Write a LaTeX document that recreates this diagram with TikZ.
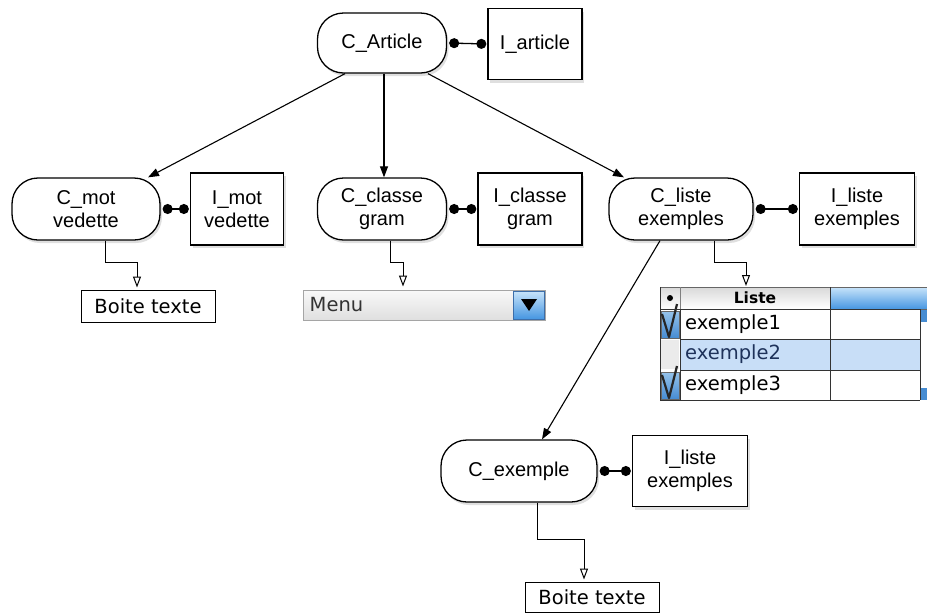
\documentclass[tikz,border=0pt]{standalone}
\usepackage{fontspec}
\setmainfont{Liberation Sans}
\newfontfamily\uifont{DejaVu Sans}
\usetikzlibrary{arrows.meta,shadows,calc}
\definecolor{selblue}{RGB}{200,222,247}
\definecolor{hdrblue}{RGB}{70,150,225}
\definecolor{hdrlight}{RGB}{200,228,250}
\definecolor{chkblue}{RGB}{70,140,210}
\definecolor{chklight}{RGB}{150,195,235}
\definecolor{txtblue}{RGB}{30,50,90}
\begin{document}
\begin{tikzpicture}[x=1pt,y=-1pt,
  every node/.style={inner sep=0pt, align=center, font=\fontsize{20}{23}\selectfont},
  shad/.style={drop shadow={shadow xshift=2pt,shadow yshift=-3pt,opacity=0.25}},
  cbox/.style={draw, line width=1.3pt, fill=white, rounded corners=26pt, shad},
  ibox/.style={draw, line width=1.3pt, fill=white, shad},
  tbox/.style={draw, line width=1pt, fill=white, font=\uifont\fontsize{19.5}{22}\selectfont},
  arr/.style={line width=1.1pt, -{Triangle[length=11pt,width=8pt]}},
  ortho/.style={line width=1pt, -{Triangle[open,length=11pt,width=8pt]}},
  link/.style={line width=1.3pt, {Circle[length=10pt]}-{Circle[length=10pt]}, shorten <=2pt, shorten >=1pt},
  ui/.style={font=\uifont\fontsize{19.5}{22}\selectfont}
]
\useasboundingbox (0,0) rectangle (927,614);

% main nodes
\node[cbox, minimum width=129, minimum height=60] (cart) at (382,43) {C\_Article};
\node[ibox, minimum width=94, minimum height=71] (iart) at (535,44) {I\_article};

\node[cbox, minimum width=148, minimum height=62] (cmot) at (86,209) {C\_mot\\vedette};
\node[ibox, minimum width=93, minimum height=72] (imot) at (237,209) {I\_mot\\vedette};

\node[cbox, minimum width=129, minimum height=62] (ccl) at (382,209) {C\_classe\\gram};
\node[ibox, minimum width=104, minimum height=72] (icl) at (530,209) {I\_classe\\gram};

\node[cbox, minimum width=144, minimum height=62] (cli) at (681,209) {C\_liste\\exemples};
\node[ibox, minimum width=115, minimum height=72] (ili) at (857,209) {I\_liste\\exemples};

\node[cbox, minimum width=156, minimum height=62] (cex) at (519,471) {C\_exemple};
\node[ibox, minimum width=115, minimum height=71] (iex) at (690,471) {I\_liste\\exemples};

\node[tbox, minimum width=134, minimum height=32] (b1) at (148,306) {Boite texte};
\node[tbox, minimum width=134, minimum height=30] (b2) at (592,597) {Boite texte};

% menu
\node[draw={rgb,255:red,165;green,165;blue,165}, line width=1pt, top color=white!95!gray, bottom color=gray!25,
      minimum width=242, minimum height=30] (menu) at (424,305) {};
\node[ui, anchor=west, text=black!80] (menutxt) at ([xshift=7pt]menu.west) {Menu};
\node[draw={rgb,255:red,60;green,110;blue,170}, line width=0.8pt, top color=hdrlight, bottom color=hdrblue,
      minimum width=31, minimum height=28] (menubtn) at (529,305) {};
\fill (521,299) -- (537,299) -- (529,311) -- cycle;

% table
\shade[top color=gray!30, bottom color=white] (660,287) rectangle (830,309);
\shade[top color=hdrlight, bottom color=hdrblue] (830,287) rectangle (927,309);
\fill[white] (660,309) rectangle (920,400);
\fill[selblue] (680,339) rectangle (920,370);
\fill[black!8] (661,340) rectangle (679,369);
\fill[chkblue] (920,309) rectangle (927,322);
\fill[chkblue] (920,388) rectangle (927,400);
\fill[white] (920,322) rectangle (927,388);
\shade[top color=chklight, bottom color=chkblue] (661,311) rectangle (679,338);
\shade[top color=chklight, bottom color=chkblue] (661,372) rectangle (679,399);
\draw[line width=0.8pt, black!60] (661,311) rectangle (679,338) (661,372) rectangle (679,399);
\draw[line width=2.2pt, black!85, line join=round] (662,314) -- (669,337) -- (677,304);
\draw[line width=2.2pt, black!85, line join=round] (662,375) -- (669,398) -- (677,366);
\draw[line width=1pt, black!60] (660,287) rectangle (927,309);
\draw[line width=1pt, black!80] (660,309) -- (920,309) (680,339) -- (920,339) (680,370) -- (920,370)
  (660,400) -- (920,400) (660,287) -- (660,400) (680,309) -- (680,400) (830,287) -- (830,400) (920,309) -- (920,400);
\draw[line width=0.6pt, black!50] (680,287) -- (680,309);
\fill (670,298) circle (3pt);
\node[font=\uifont\bfseries\fontsize{15.5}{18}\selectfont] (lhead) at (755,298) {Liste};
\node[ui, anchor=west] (e1) at (685,324) {exemple1};
\node[ui, anchor=west, text=txtblue] (e2) at (685,354) {exemple2};
\node[ui, anchor=west] (e3) at (685,385) {exemple3};
\coordinate (liste) at (746,286);

% arrows
\draw[arr] ([xshift=-37pt]cart.south) -- ([xshift=62pt]cmot.north);
\draw[arr] ([xshift=2pt]cart.south) -- ([xshift=2pt]ccl.north);
\draw[arr] ([xshift=46pt]cart.south) -- ([xshift=-57pt]cli.north);
\draw[arr] ([xshift=-21pt]cli.south) -- ([xshift=23pt]cex.north);

% links
\draw[link] (cart.east) -- (iart.west);
\draw[link] (cmot.east) -- (imot.west);
\draw[link] (ccl.east) -- (icl.west);
\draw[link] (cli.east) -- (ili.west);
\draw[link] (cex.east) -- (iex.west);

% orthogonal connectors
\draw[ortho] ([xshift=19pt]cmot.south) -- ++(0,22) -| ([xshift=-11pt,yshift=2pt]b1.north);
\draw[ortho] ([xshift=8pt]ccl.south) -- ++(0,22) -| ([xshift=-21pt,yshift=3pt]menu.north);
\draw[ortho] ([xshift=33pt]cli.south) -- ++(0,22) -| (liste);
\draw[ortho] ([xshift=18pt]cex.south) -- ++(0,37) -| ([xshift=-8pt,yshift=2pt]b2.north);
\end{tikzpicture}
\end{document}
